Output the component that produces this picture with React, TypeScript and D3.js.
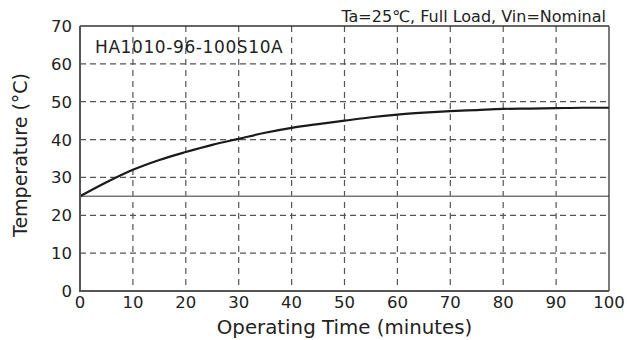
import React from "react";
import * as d3 from "d3";

const timeMin = [0, 5, 10, 15, 20, 25, 30, 35, 40, 45, 50, 55, 60, 65, 70, 75, 80, 85, 90, 95, 100];
const tempC = [25, 28.7, 32.0, 34.6, 36.7, 38.6, 40.2, 41.8, 43.1, 44.1, 45.0, 45.9, 46.6, 47.1, 47.5, 47.8, 48.1, 48.2, 48.3, 48.4, 48.4];
const xTicks = [0, 10, 20, 30, 40, 50, 60, 70, 80, 90, 100];
const yTicks = [0, 10, 20, 30, 40, 50, 60, 70];
const ambient = 25;
const modelLabel = "HA1010-96-100S10A";
const condLabel = "Ta=25℃, Full Load, Vin=Nominal";
const xTitle = "Operating Time (minutes)";
const yTitle = "Temperature (°C)";

const W = 627, H = 340;
const L = 80, R = 609, T = 26, B = 291;
const FONT = "'DejaVu Sans', sans-serif";

export default function App() {
  const x = d3.scaleLinear().domain([0, 100]).range([L, R]);
  const y = d3.scaleLinear().domain([0, 70]).range([B, T]);
  const line = d3.line<number>()
    .x((_, i) => x(timeMin[i]))
    .y((d) => y(d))
    .curve(d3.curveMonotoneX);
  return (
    <svg width={W} height={H} style={{ position: "absolute", left: 0, top: 0 }}>
      <rect width={W} height={H} fill="#fff" />
      {xTicks.slice(1, -1).map((t) => (
        <line key={"gx" + t} x1={x(t)} x2={x(t)} y1={T} y2={B} stroke="#555" strokeWidth={1.2} strokeDasharray="6,5" />
      ))}
      {yTicks.slice(1, -1).map((t) => (
        <line key={"gy" + t} x1={L} x2={R} y1={y(t)} y2={y(t)} stroke="#555" strokeWidth={1.2} strokeDasharray="6,4" />
      ))}
      <line x1={L} x2={R} y1={y(ambient)} y2={y(ambient)} stroke="#777" strokeWidth={1.5} />
      <path d={line(tempC) || ""} fill="none" stroke="#1a1a1a" strokeWidth={2.2} />
      <line x1={L} x2={R} y1={T} y2={T} stroke="#333" strokeWidth={1.3} />
      <line x1={R} x2={R} y1={T} y2={B} stroke="#333" strokeWidth={1.3} />
      <line x1={L} x2={L} y1={T} y2={B + 1} stroke="#555" strokeWidth={2} />
      <line x1={L - 1} x2={R} y1={B} y2={B} stroke="#555" strokeWidth={2} />
      {xTicks.map((t) => (
        <text key={"tx" + t} x={x(t)} y={308} textAnchor="middle" fontSize={16.5} fontFamily={FONT} fill="#222">{t}</text>
      ))}
      {yTicks.map((t) => (
        <text key={"ty" + t} x={72} y={y(t) + 6} textAnchor="end" fontSize={16.5} fontFamily={FONT} fill="#222">{t}</text>
      ))}
      <text x={95} y={53} fontSize={17} letterSpacing={0.6} fontFamily={FONT} fill="#222">{modelLabel}</text>
      <text x={606} y={22} textAnchor="end" fontSize={16} fontFamily={FONT} fill="#222">{condLabel}</text>
      <text x={(L + R) / 2} y={334} textAnchor="middle" fontSize={19.8} fontFamily={FONT} fill="#222">{xTitle}</text>
      <text transform={`translate(27,155) rotate(-90)`} textAnchor="middle" fontSize={19} fontFamily={FONT} fill="#222">{yTitle}</text>
    </svg>
  );
}
